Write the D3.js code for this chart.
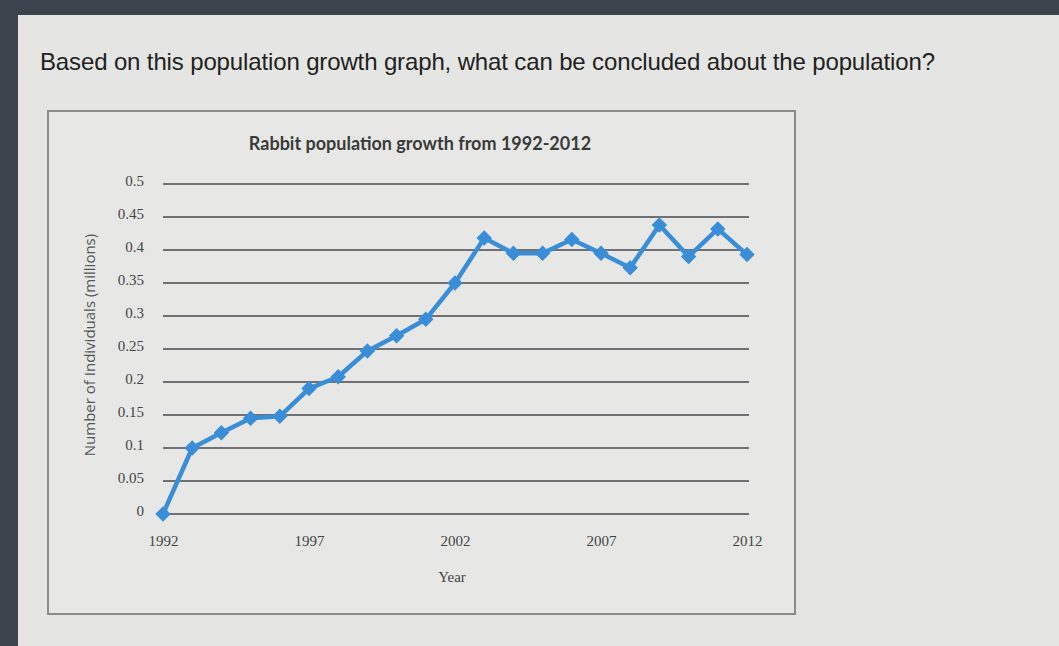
<!DOCTYPE html>
<html>
<head>
<meta charset="utf-8">
<script src="https://cdn.jsdelivr.net/npm/d3@7"></script>
<style>
  body { margin: 0; background: #3d434c; }
  .page { position: absolute; left: 18px; top: 15px; width: 1041px; height: 631px; background: #e5e6e3; }
  svg { position: absolute; left: 0; top: 0; }
  .question { font-family: "Liberation Sans Narrow", "Liberation Sans", Arial, sans-serif; font-size: 24px; fill: #222; }
  .title { font-family: Lato, "Open Sans", sans-serif; font-weight: bold; font-size: 18px; fill: #3a3a3a; }
  .tick text { font-family: "Liberation Serif", serif; font-size: 15px; fill: #444; }
  .ylabel { font-family: "Open Sans", sans-serif; font-size: 15px; fill: #555; }
  .xlabel { font-family: "Liberation Serif", serif; font-size: 15px; fill: #444; }
</style>
</head>
<body>
<div class="page"></div>
<div id="chart"></div>
<script>
var years = [1992, 1993, 1994, 1995, 1996, 1997, 1998, 1999, 2000, 2001, 2002,
             2003, 2004, 2005, 2006, 2007, 2008, 2009, 2010, 2011, 2012];
var population = [0, 0.1, 0.123, 0.145, 0.148, 0.19, 0.208, 0.247, 0.27, 0.295, 0.35,
                  0.418, 0.395, 0.395, 0.416, 0.395, 0.373, 0.438, 0.39, 0.432, 0.393];
var yTicks = [0, 0.05, 0.1, 0.15, 0.2, 0.25, 0.3, 0.35, 0.4, 0.45, 0.5];
var xTicks = [1992, 1997, 2002, 2007, 2012];

var rows = years.map(function(d, i) { return { x: d, y: population[i] }; });

var size = { w: 1059, h: 646 };
var svg = d3.select('#chart').append('svg')
  .attr('width', size.w)
  .attr('height', size.h);

// question text
svg.append('text')
  .attr('class', 'question')
  .attr('x', 40)
  .attr('y', 70)
  .attr('textLength', 895)
  .text('Based on this population growth graph, what can be concluded about the population?');

// chart box
svg.append('rect')
  .attr('x', 48).attr('y', 111)
  .attr('width', 747).attr('height', 503)
  .attr('fill', '#e7e8e5')
  .attr('stroke', '#8a8c8c')
  .attr('stroke-width', 2);

svg.append('text')
  .attr('class', 'title')
  .attr('x', 420)
  .attr('y', 150)
  .attr('text-anchor', 'middle')
  .text('Rabbit population growth from 1992-2012');

var x = d3.scaleLinear().domain([1992, 2012]).range([163, 747]);
var y = d3.scaleLinear().domain([0, 0.5]).range([514, 184]);

// gridlines
svg.append('g')
  .selectAll('line').data(yTicks).enter().append('line')
  .attr('x1', x(1992)).attr('x2', x(2012) + 2)
  .attr('y1', function(d) { return y(d); })
  .attr('y2', function(d) { return y(d); })
  .attr('stroke', '#6f7174')
  .attr('stroke-width', 2);

// y axis
var yAxis = d3.axisLeft(y).tickValues(yTicks).tickSize(0).tickPadding(0)
  .tickFormat(function(d) { return d3.format('')(d); });
svg.append('g')
  .attr('transform', 'translate(144,-3)')
  .call(yAxis)
  .call(function(g) { g.select('.domain').remove(); });

// x axis
var xAxis = d3.axisBottom(x).tickValues(xTicks).tickSize(0).tickPadding(0)
  .tickFormat(d3.format('d'));
svg.append('g')
  .attr('transform', 'translate(0,535)')
  .call(xAxis)
  .call(function(g) { g.select('.domain').remove(); });

svg.append('text')
  .attr('class', 'ylabel')
  .attr('transform', 'translate(95,345) rotate(-90)')
  .attr('text-anchor', 'middle')
  .text('Number of Individuals (millions)');

svg.append('text')
  .attr('class', 'xlabel')
  .attr('x', 452)
  .attr('y', 582)
  .attr('text-anchor', 'middle')
  .text('Year');

// series
var line = d3.line()
  .x(function(d) { return x(d.x); })
  .y(function(d) { return y(d.y); });

svg.append('path')
  .datum(rows)
  .attr('d', line)
  .attr('fill', 'none')
  .attr('stroke', '#3a8ed8')
  .attr('stroke-width', 4.5)
  .attr('stroke-linejoin', 'round');

// diamond markers: rotated squares
svg.append('g')
  .selectAll('path').data(rows).enter().append('path')
  .attr('d', d3.symbol().type(d3.symbolSquare).size(120))
  .attr('transform', function(d) { return 'translate(' + x(d.x) + ',' + y(d.y) + ') rotate(45)'; })
  .attr('fill', '#3a8ed8');
</script>
</body>
</html>
